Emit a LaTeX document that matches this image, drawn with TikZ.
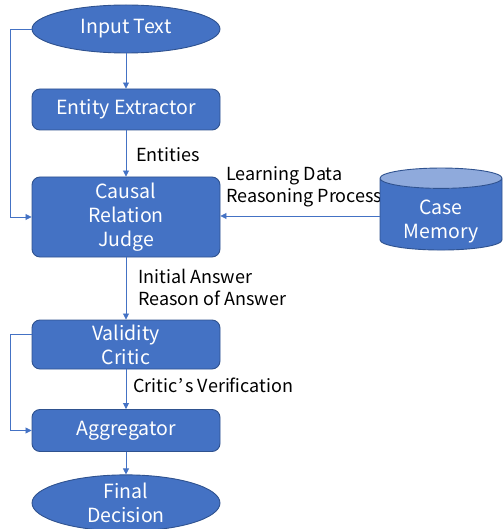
\documentclass[tikz,border=0pt]{standalone}
\usepackage{fontspec}
\setmainfont{Noto Sans CJK JP}
\usetikzlibrary{arrows.meta, shapes.geometric}
\definecolor{boxblue}{HTML}{4472C4}
\definecolor{edgeblue}{HTML}{2F528F}
\definecolor{capblue}{HTML}{8FAADC}

\begin{document}
\begin{tikzpicture}[x=1pt, y=1pt,
    every node/.style={font=\fontsize{18}{22}\selectfont},
    boxtext/.style={text=white, align=center,
      font=\fontsize{19.5}{24}\selectfont},
    proc/.style={boxtext, draw=edgeblue, line width=0.9pt, fill=boxblue,
      rounded corners=8pt, minimum width=188pt, inner sep=2pt},
    term/.style={boxtext, ellipse, draw=edgeblue, line width=0.9pt,
      fill=boxblue, minimum width=188pt, inner sep=0pt},
    flow/.style={draw=boxblue, line width=0.8pt,
      -{Triangle[length=6pt, width=6pt]}},
    lbl/.style={anchor=west, align=left, inner sep=0pt}]
  \useasboundingbox (0,0) rectangle (503,-529);
  % main chain
  \node[term, minimum height=48pt] (input) at (126,-29) {Input Text};
  \node[proc, minimum height=41pt] (extract) at (126,-109.5) {Entity Extractor};
  \node[proc, minimum height=80pt] (judge) at (126,-217) {Causal\\Relation\\Judge};
  \node[proc, minimum height=49pt] (critic) at (126,-344.5) {Validity\\Critic};
  \node[proc, minimum height=42pt] (aggr) at (126,-430.5) {Aggregator};
  \node[term, minimum height=54pt] (final) at (126,-503) {Final\\Decision};
  % labels
  \node[lbl] (entities) at (136,-155) {Entities};
  \node[lbl] (learn) at (226,-187) {Learning Data\\Reasoning Process};
  \node[lbl] (answer) at (138,-287) {Initial Answer\\Reason of Answer};
  \node[lbl] (verify) at (133,-385) {Critic\kern1pt’\kern2pt s Verification};
  % case memory store (text set lower than the shape centre)
  \node[cylinder, shape border rotate=90, aspect=0.25, draw=edgeblue,
    line width=0.9pt, cylinder uses custom fill, cylinder body fill=boxblue,
    cylinder end fill=capblue, boxtext, minimum width=122pt, minimum height=82pt]
    (memory) at (441,-216) {\phantom{Case}\\\phantom{Memory}};
  \node[boxtext] (memtext) at ([yshift=-6pt]memory.center) {Case\\Memory};
  % arrows
  \draw[flow] (input) -- (extract);
  \draw[flow] (extract) -- (judge);
  \draw[flow] (judge) -- (critic);
  \draw[flow] (critic) -- (aggr);
  \draw[flow] (aggr) -- (final);
  \draw[flow] (memory.west) -- (judge.east |- memory.west);
  \draw[flow] (input.west) -| (10,-217) -- (judge.west);
  \draw[flow] (critic.west |- 0,-334) -| (10,-430.5) -- (aggr.west);
\end{tikzpicture}
\end{document}
